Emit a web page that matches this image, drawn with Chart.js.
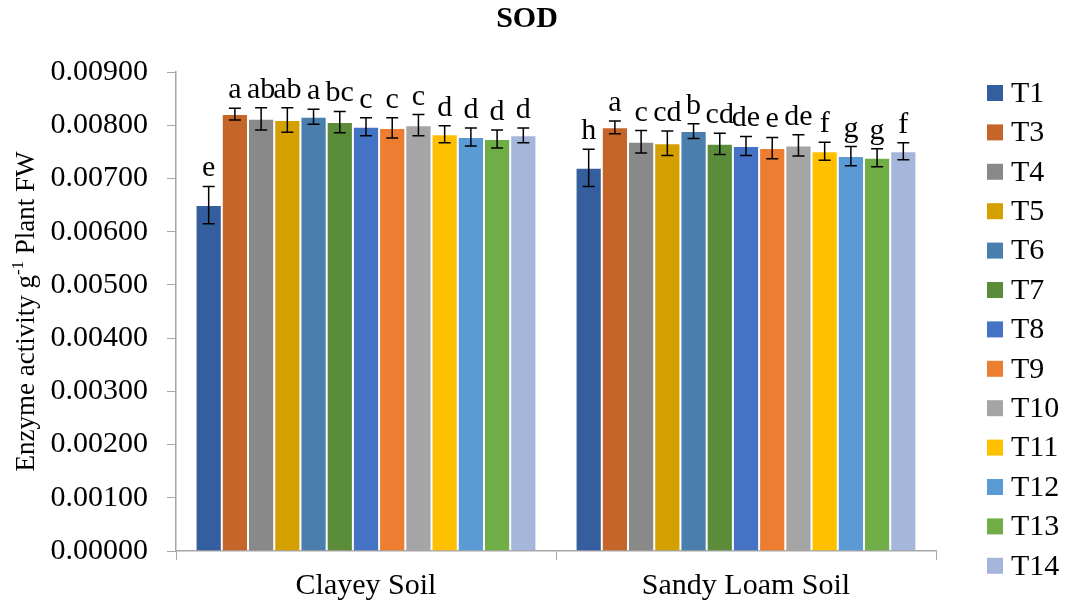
<!DOCTYPE html>
<html>
<head>
<meta charset="utf-8">
<script src="https://cdn.jsdelivr.net/npm/chart.js@4/dist/chart.umd.min.js"></script>
<style>
  body { margin: 0; background: #fff; }
  #wrap { width: 1068px; height: 608px; position: relative; }
</style>
</head>
<body>
<div id="wrap"><canvas id="sodChart"></canvas></div>
<script>
// values
var categories = ['Clayey Soil', 'Sandy Loam Soil'];
var treatments = ['T1', 'T3', 'T4', 'T5', 'T6', 'T7', 'T8', 'T9', 'T10', 'T11', 'T12', 'T13', 'T14'];
var clayeyMeans = [0.00650, 0.00821, 0.00812, 0.00810, 0.00816, 0.00806, 0.00797, 0.00795, 0.00800, 0.00783, 0.00778, 0.00774, 0.00781];
var clayeyErr   = [0.00035, 0.00011, 0.00021, 0.00023, 0.00014, 0.00020, 0.00017, 0.00019, 0.00020, 0.00016, 0.00017, 0.00017, 0.00014];
var sandyMeans  = [0.00720, 0.00796, 0.00769, 0.00766, 0.00789, 0.00765, 0.00761, 0.00757, 0.00762, 0.00751, 0.00742, 0.00739, 0.00751];
var sandyErr    = [0.00035, 0.00012, 0.00021, 0.00023, 0.00014, 0.00020, 0.00018, 0.00020, 0.00020, 0.00017, 0.00018, 0.00017, 0.00016];
var clayeyLetters = ['e', 'a', 'ab', 'ab', 'a', 'bc', 'c', 'c', 'c', 'd', 'd', 'd', 'd'];
var sandyLetters  = ['h', 'a', 'c', 'cd', 'b', 'cd', 'de', 'e', 'de', 'f', 'g', 'g', 'f'];
var yTicks = [0, 0.009, 0.001];   // min, max, step

var colors = ['#355E9F', '#C5652A', '#898989', '#D4A000', '#4A7EAD', '#5A8C3A', '#4472C4',
              '#ED7D31', '#A5A5A5', '#FFC000', '#5B9BD5', '#70AD47', '#A6B5DA'];

var serif = '"Liberation Serif", "Times New Roman", serif';
var axisGrey = '#a6a6a6';

var datasets = treatments.map(function(t, i) {
    return {
        label: t,
        data: [clayeyMeans[i], sandyMeans[i]],
        errs: [clayeyErr[i], sandyErr[i]],
        letters: [clayeyLetters[i], sandyLetters[i]],
        backgroundColor: colors[i],
        borderColor: 'rgba(255,255,255,0.5)',
        borderWidth: 1,
        categoryPercentage: 0.897,
        barPercentage: 1.0
    };
});

// error bars and letters on top of each bar
var errorBars = {
    id: 'errorBars',
    afterDatasetsDraw: function(chart) {
        var ctx = chart.ctx, y = chart.scales.y;
        ctx.save();
        chart.data.datasets.forEach(function(ds, di) {
            var meta = chart.getDatasetMeta(di);
            meta.data.forEach(function(bar, j) {
                var v = ds.data[j], e = ds.errs[j];
                var top = y.getPixelForValue(v + e), bot = y.getPixelForValue(v - e);
                ctx.strokeStyle = '#000';
                ctx.lineWidth = 1.5;
                ctx.beginPath();
                ctx.moveTo(bar.x, top); ctx.lineTo(bar.x, bot);
                ctx.moveTo(bar.x - 6, top); ctx.lineTo(bar.x + 6, top);
                ctx.moveTo(bar.x - 6, bot); ctx.lineTo(bar.x + 6, bot);
                ctx.stroke();
                ctx.fillStyle = '#000';
                ctx.font = '30px ' + serif;
                ctx.textAlign = 'center';
                ctx.textBaseline = 'alphabetic';
                ctx.fillText(ds.letters[j], bar.x, top - 10);
            });
        });
        ctx.restore();
    }
};

// title, y axis title with superscript, and the legend column on the right
var extras = {
    id: 'extras',
    afterDraw: function(chart) {
        var ctx = chart.ctx, area = chart.chartArea;
        ctx.save();
        ctx.fillStyle = '#000';
        ctx.font = 'bold 30px ' + serif;
        ctx.textAlign = 'center';
        ctx.textBaseline = 'middle';
        ctx.fillText('SOD', 527, 19);
        ctx.restore();

        // axis title
        ctx.save();
        var parts = [['Enzyme activity g', 27, 0], ['-1', 17, -11], [' Plant FW', 27, 0]];
        var total = 0;
        parts.forEach(function(p) { ctx.font = p[1] + 'px ' + serif; total += ctx.measureText(p[0]).width; });
        ctx.translate(34, (area.top + area.bottom) / 2);
        ctx.rotate(-Math.PI / 2);
        ctx.fillStyle = '#000';
        ctx.textAlign = 'left';
        ctx.textBaseline = 'alphabetic';
        var x = -total / 2;
        parts.forEach(function(p) {
            ctx.font = p[1] + 'px ' + serif;
            ctx.fillText(p[0], x, p[2]);
            x += ctx.measureText(p[0]).width;
        });
        ctx.restore();

        // legend
        ctx.save();
        ctx.font = '30px ' + serif;
        ctx.textBaseline = 'middle';
        ctx.textAlign = 'left';
        chart.data.datasets.forEach(function(ds, i) {
            var cy = area.top + 21 + i * 39.4;
            ctx.fillStyle = ds.backgroundColor;
            ctx.fillRect(area.right + 51, cy - 8, 16, 16);
            ctx.fillStyle = '#000';
            ctx.fillText(ds.label, area.right + 75, cy + 1);
        });
        ctx.restore();
    }
};

new Chart(document.getElementById('sodChart').getContext('2d'), {
    type: 'bar',
    data: { labels: categories, datasets: datasets },
    options: {
        responsive: true,
        maintainAspectRatio: false,
        animation: false,
        layout: { padding: { left: 0, right: 132, top: 72, bottom: 0 } },
        plugins: {
            legend: { display: false },
            tooltip: { enabled: false },
            title: { display: false }
        },
        scales: {
            x: {
                offset: true,
                grid: { offset: true, drawOnChartArea: false, drawTicks: true, tickLength: 9, color: axisGrey },
                border: { color: axisGrey, width: 1.5 },
                ticks: { color: '#000', font: { family: serif, size: 30 }, padding: 8 },
                afterFit: function(scale) { scale.height = 57; }
            },
            y: {
                min: yTicks[0],
                max: yTicks[1],
                grid: { drawOnChartArea: false, drawTicks: true, tickLength: 9, color: axisGrey },
                border: { color: axisGrey, width: 1.5 },
                ticks: {
                    stepSize: yTicks[2],
                    color: '#000',
                    padding: 19,
                    font: { family: serif, size: 30 },
                    callback: function(v) { return Number(v).toFixed(5); }
                },
                afterFit: function(scale) { scale.width = 176; }
            }
        }
    },
    plugins: [errorBars, extras]
});
</script>
</body>
</html>
